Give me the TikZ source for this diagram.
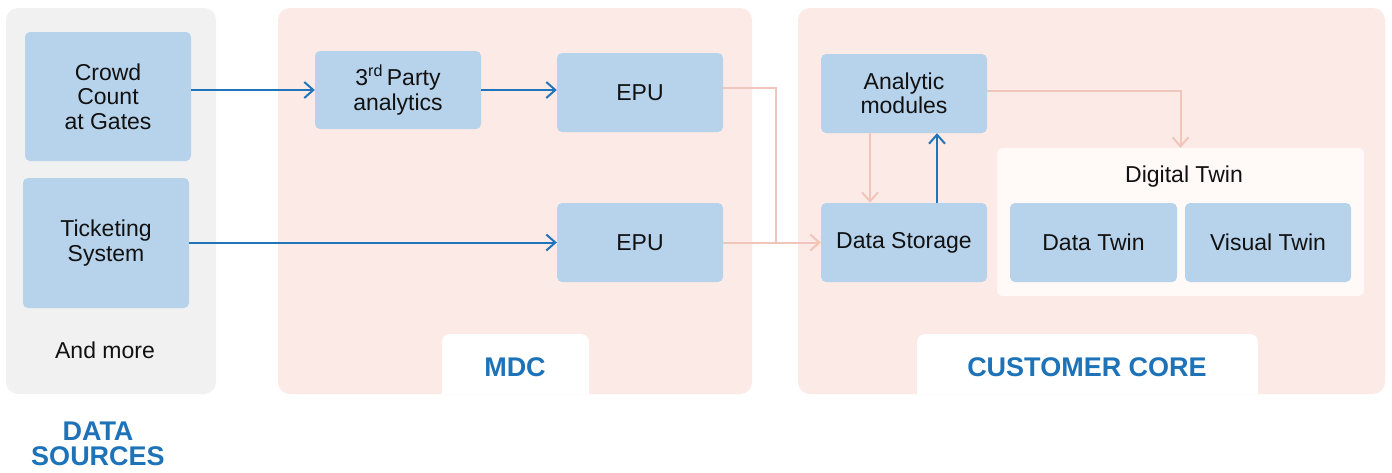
\documentclass[tikz,border=0pt]{standalone}
\usepackage{fontspec}
\setmainfont{Liberation Sans}
\usetikzlibrary{arrows.meta,positioning,calc}

\definecolor{boxblue}{HTML}{B7D3EC}
\definecolor{panelgray}{HTML}{F1F1F1}
\definecolor{panelpink}{HTML}{FCEAE6}
\definecolor{flowpink}{HTML}{F0C5BB}
\definecolor{flowblue}{HTML}{1F74BA}
\definecolor{labelblue}{HTML}{1D72B8}
\definecolor{twinbg}{HTML}{FFF9F8}
\definecolor{ink}{HTML}{111111}

\tikzset{
  unitbox/.style={fill=boxblue, rounded corners=5pt, align=center, text=ink,
    font=\fontsize{23}{24.5}\selectfont, inner sep=0pt},
  panel/.style={rounded corners=12pt},
  tab/.style={fill=white},
  grouptitle/.style={text=labelblue, font=\bfseries\fontsize{27}{25}\selectfont, align=center},
  blueflow/.style={draw=flowblue, line width=2pt,
    -{Straight Barb[length=9pt,width=16pt,line width=2pt]}},
  pinkflow/.style={draw=flowpink, line width=2pt,
    -{Straight Barb[length=9pt,width=16pt,line width=2pt]}},
  pinkline/.style={draw=flowpink, line width=2pt},
}

\begin{document}
\begin{tikzpicture}[x=1pt,y=-1pt]
\useasboundingbox[fill=white] (0,0) rectangle (1392,472);

% group panels
\fill[panelgray, panel] (6,8) rectangle (216,394);
\fill[panelpink, panel] (278,8) rectangle (752,394);
\fill[panelpink, panel] (798,8) rectangle (1385,394);

% white title tabs at the bottom of the two pink panels
\fill[tab] (442,394) [rounded corners=8pt] -- (442,334) -- (589,334) [sharp corners] -- (589,394) -- cycle;
\fill[tab] (917,394) [rounded corners=8pt] -- (917,334) -- (1258,334) [sharp corners] -- (1258,394) -- cycle;

% data sources
\node[unitbox, minimum width=166pt, minimum height=129pt] (crowd) at (108,96.5) {Crowd\\Count\\at Gates};
\node[unitbox, minimum width=166pt, minimum height=130pt] (ticket) at (106,243) {Ticketing\\System};
\node[text=ink, font=\fontsize{23}{24.5}\selectfont] (more) at (105,350) {And more};
\node[grouptitle] (dslabel) at (98,444) {DATA\\SOURCES};

% MDC
\node[unitbox, minimum width=166pt, minimum height=78pt] (third) at (398,90) {3\textsuperscript{rd}\,Party\\analytics};
\node[unitbox, minimum width=166pt, minimum height=79pt] (epua) at (640,92.5) {EPU};
\node[unitbox, minimum width=166pt, minimum height=79pt] (epub) at (640,242.5) {EPU};
\node[grouptitle] (mdclabel) at (515,367) {MDC};

% customer core
\node[unitbox, minimum width=166pt, minimum height=79pt] (analytic) at (904,93.5) {Analytic\\modules};
\node[unitbox, minimum width=166pt, minimum height=79pt] (storage) at (904,242.5) {Data Storage};
\node[fill=twinbg, rounded corners=6pt, minimum width=367pt, minimum height=148pt, inner sep=0pt] (twin) at (1180.5,222) {};
\node[text=ink, font=\fontsize{23}{24.5}\selectfont] (twintitle) at (1184,177) {Digital Twin};
\node[unitbox, minimum width=167pt, minimum height=79pt] (datatwin) at (1093.5,242.5) {Data Twin};
\node[unitbox, minimum width=166pt, minimum height=79pt] (visualtwin) at (1268,242.5) {Visual Twin};
\node[grouptitle] (cclabel) at (1087,367) {CUSTOMER CORE};

\coordinate (merge) at (776,242.5);

% blue flows
\draw[blueflow] (crowd.east |- third) -- (third.west);
\draw[blueflow] (third.east) -- (third.east -| epua.west);
\draw[blueflow] (ticket.east |- epub) -- (epub.west);
\draw[blueflow] ([xshift=33pt]storage.north) -- ([xshift=33pt]analytic.south);

% pink flows
\draw[pinkline] ([yshift=5pt]epua.east) -| (merge);
\draw[pinkflow] (epub.east) -- (storage.west);
\draw[pinkflow] ([xshift=-34pt]analytic.south) -- ([xshift=-34pt]storage.north);
\draw[pinkflow] ([yshift=2.5pt]analytic.east) -| (twin.north);
\end{tikzpicture}
\end{document}
